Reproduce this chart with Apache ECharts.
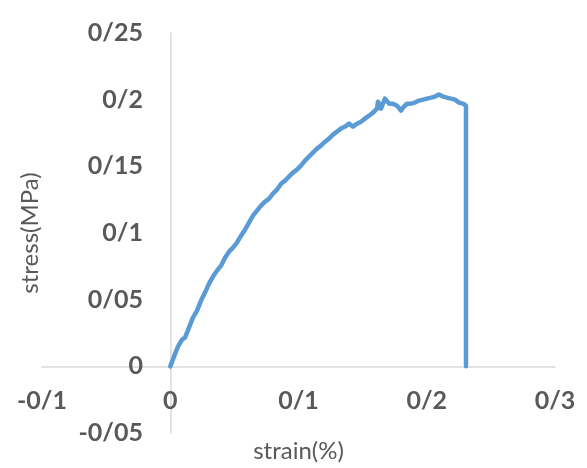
<!DOCTYPE html>
<html>
<head>
<meta charset="utf-8">
<script src="https://cdn.jsdelivr.net/npm/echarts@6/dist/echarts.min.js"></script>
<style>
  html, body { margin: 0; padding: 0; background: #ffffff; }
  #chart { width: 587px; height: 468px; }
</style>
</head>
<body>
<div id="chart"></div>
<script>
// Tensile test: strain (%) against stress (MPa)
const strain = [
  0, 0.0029, 0.0060, 0.0092, 0.0115, 0.0146, 0.0177, 0.0209, 0.0240, 0.0271,
  0.0302, 0.0333, 0.0365, 0.0396, 0.0427, 0.0458, 0.0489, 0.0520, 0.0552, 0.0583,
  0.0614, 0.0645, 0.0676, 0.0708, 0.0739, 0.0770, 0.0801, 0.0832, 0.0864, 0.0895,
  0.0926, 0.0957, 0.0988, 0.1019, 0.1051, 0.1082, 0.1113, 0.1144, 0.1175, 0.1207,
  0.1238, 0.1269, 0.1300, 0.1331, 0.1363, 0.1394, 0.1425, 0.1456, 0.1487, 0.1518,
  0.1550, 0.1581, 0.1612, 0.1620, 0.1643, 0.1674, 0.1706, 0.1737, 0.1768, 0.1799,
  0.1815, 0.1846, 0.1877, 0.1908, 0.1940, 0.1971, 0.2002, 0.2033, 0.2064, 0.2095,
  0.2127, 0.2158, 0.2189, 0.2220, 0.2251, 0.2283, 0.2306, 0.2306
];
const stress = [
  0, 0.0073, 0.0148, 0.0200, 0.0215, 0.0290, 0.0365, 0.0418, 0.0493, 0.0553,
  0.0620, 0.0673, 0.0718, 0.0755, 0.0815, 0.0860, 0.0890, 0.0928, 0.0980, 0.1025,
  0.1078, 0.1130, 0.1168, 0.1205, 0.1235, 0.1258, 0.1295, 0.1325, 0.1370, 0.1393,
  0.1423, 0.1453, 0.1475, 0.1505, 0.1543, 0.1573, 0.1603, 0.1633, 0.1655, 0.1685,
  0.1708, 0.1738, 0.1760, 0.1783, 0.1798, 0.1820, 0.1798, 0.1820, 0.1835, 0.1858,
  0.1880, 0.1903, 0.1933, 0.1985, 0.1933, 0.2008, 0.1970, 0.1970, 0.1955, 0.1918,
  0.1940, 0.1970, 0.1970, 0.1978, 0.1993, 0.2000, 0.2008, 0.2015, 0.2023, 0.2038,
  0.2023, 0.2015, 0.2008, 0.2000, 0.1978, 0.1970, 0.1955, 0
];

// Axis ticks and their printed labels ('/' used as decimal separator)
const xTicks = [-0.1, 0, 0.1, 0.2, 0.3];
const xTickLabels = ['-0/1', '0', '0/1', '0/2', '0/3'];
const yTicks = [-0.05, 0, 0.05, 0.1, 0.15, 0.2, 0.25];
const yTickLabels = ['-0/05', '0', '0/05', '0/1', '0/15', '0/2', '0/25'];

function lookup(ticks, labels) {
  return function (v) {
    for (let i = 0; i < ticks.length; i++) {
      if (Math.abs(ticks[i] - v) < 1e-9) return labels[i];
    }
    return '';
  };
}

const labelFont = {
  color: '#595959',
  fontFamily: 'Lato',
  fontWeight: 'bold',
  fontSize: 25
};
const nameFont = {
  color: '#595959',
  fontFamily: 'Lato',
  fontSize: 24
};

const chart = echarts.init(document.getElementById('chart'), null, { renderer: 'canvas' });
chart.setOption({
  animation: false,
  backgroundColor: '#ffffff',
  grid: { left: 42, right: 32, top: 33, bottom: 35, containLabel: false, outerBoundsMode: 'none' },
  xAxis: {
    type: 'value',
    min: -0.1,
    max: 0.3,
    interval: 0.1,
    name: 'strain(%)',
    nameLocation: 'middle',
    nameGap: 6,
    nameTextStyle: nameFont,
    axisLine: { onZero: true, lineStyle: { color: '#d9d9d9', width: 1.5 } },
    axisTick: { show: false },
    splitLine: { show: false },
    // tick labels sit just below the zero line
    axisLabel: Object.assign({ margin: -45, formatter: lookup(xTicks, xTickLabels) }, labelFont)
  },
  yAxis: {
    type: 'value',
    min: -0.05,
    max: 0.25,
    interval: 0.05,
    name: 'stress(MPa)',
    nameLocation: 'middle',
    nameGap: 0,
    nameTextStyle: nameFont,
    axisLine: { show: true, onZero: true, lineStyle: { color: '#d9d9d9', width: 1.5 } },
    axisTick: { show: false },
    splitLine: { show: false },
    // tick labels sit just left of the zero line
    axisLabel: Object.assign({ margin: -101, formatter: lookup(yTicks, yTickLabels) }, labelFont)
  },
  series: [{
    type: 'line',
    data: strain.map((s, i) => [s, stress[i]]),
    showSymbol: false,
    smooth: false,
    lineStyle: { color: '#5b9bd5', width: 4.5, join: 'round', cap: 'round' },
    clip: false
  }]
});
</script>
</body>
</html>
